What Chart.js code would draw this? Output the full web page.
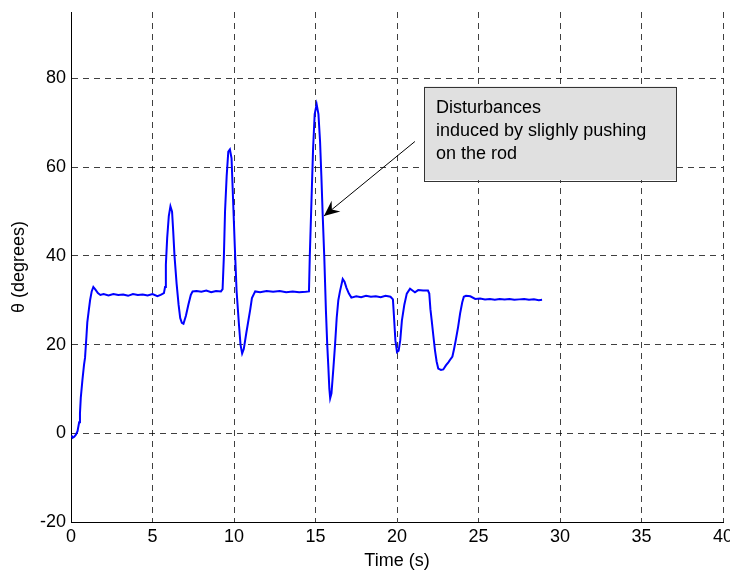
<!DOCTYPE html>
<html>
<head>
<meta charset="utf-8">
<script src="https://cdn.jsdelivr.net/npm/chart.js@4.4.1/dist/chart.umd.min.js"></script>
<style>
  html, body { margin: 0; padding: 0; background: #fff; }
  canvas { display: block; }
</style>
</head>
<body>
<canvas id="thetaChart" width="730" height="571"></canvas>
<script>
// pendulum angle response
const timeS = [
    0.05, 0.1, 0.2, 0.3, 0.4, 0.5, 0.55, 0.6, 0.7, 0.8, 0.86, 0.95, 1.0, 1.1, 1.17, 1.27, 1.37, 1.5, 1.65, 1.8,
    2.0, 2.3, 2.6, 2.9, 3.2, 3.5, 3.8, 4.1, 4.4, 4.7, 5.0, 5.3, 5.5, 5.7, 5.77, 5.82, 5.9, 6.0, 6.1, 6.2,
    6.27, 6.35, 6.48, 6.6, 6.7, 6.8, 6.9, 7.05, 7.2, 7.35, 7.46, 7.7, 8.0, 8.3, 8.6, 8.9, 9.2, 9.3, 9.38, 9.45,
    9.55, 9.65, 9.75, 9.85, 9.95, 10.05, 10.16, 10.3, 10.4, 10.5, 10.6, 10.75, 10.85, 11.0, 11.1, 11.3, 11.6, 12.0, 12.4, 12.8,
    13.2, 13.6, 14.0, 14.4, 14.6, 14.65, 14.75, 14.85, 14.95, 15.07, 15.18, 15.28, 15.36, 15.44, 15.54, 15.64, 15.72, 15.79, 15.85, 15.9,
    15.98, 16.1, 16.2, 16.3, 16.4, 16.5, 16.67, 16.78, 16.9, 17.05, 17.2, 17.5, 17.8, 18.1, 18.4, 18.7, 19.0, 19.3, 19.6, 19.75,
    19.82, 19.9, 20.0, 20.1, 20.2, 20.3, 20.45, 20.6, 20.8, 20.95, 21.1, 21.3, 21.6, 21.9, 21.98, 22.05, 22.13, 22.23, 22.33, 22.43,
    22.53, 22.7, 22.84, 23.0, 23.15, 23.3, 23.4, 23.5, 23.6, 23.75, 23.87, 24.0, 24.1, 24.23, 24.5, 24.8, 25.1, 25.4, 25.7, 26.0,
    26.3, 26.6, 26.9, 27.2, 27.5, 27.8, 28.1, 28.4, 28.7, 28.9
];
const thetaDeg = [
    -0.5, -1.0, -0.8, -0.3, 0.5, 2.5, 4.5, 8, 12, 15.5, 17, 22, 25, 28, 30, 32, 33, 32.4, 31.6, 31.2,
    31.4, 31.1, 31.4, 31.2, 31.3, 31.0, 31.4, 31.2, 31.3, 31.1, 31.4, 30.9, 31.2, 31.6, 33, 38, 44, 49, 51.2, 50,
    45.6, 40, 33.7, 29, 26, 24.9, 24.7, 26.5, 29, 31.2, 32, 32.1, 31.9, 32.2, 31.8, 32.1, 32, 32.5, 40, 50,
    58, 63.5, 64, 62, 52, 42, 32, 24.7, 20, 18, 19, 22.5, 24.7, 28, 30.5, 32, 31.8, 32.1, 31.9, 32.1,
    31.8, 32.0, 31.8, 31.9, 32, 40, 52, 64, 72, 74.2, 72, 65.8, 58, 49.4, 39.6, 27.6, 20, 14.8, 10, 7.9,
    9, 14.8, 20, 26, 30, 32, 34.8, 34.2, 32.8, 31.5, 30.6, 30.9, 30.7, 31.0, 30.8, 30.9, 30.7, 31.0, 30.8, 30.2,
    26, 21, 18.3, 18.6, 21, 25.4, 29, 31.5, 32.6, 32.2, 31.8, 32.3, 32.2, 32.2, 31.5, 28, 25.4, 22, 18.7, 16.2,
    14.6, 14.3, 14.4, 15.3, 16, 16.8, 17.3, 19, 20.9, 24, 27, 29.5, 30.8, 31, 30.9, 30.3, 30.4, 30.2, 30.3, 30.1,
    30.3, 30.2, 30.3, 30.1, 30.2, 30.3, 30.1, 30.2, 30.0, 30.1
];
const xTicks = [0, 5, 10, 15, 20, 25, 30, 35, 40];
const yTicks = [-20, 0, 20, 40, 60, 80];
const noteLines = ['Disturbances', 'induced by slighly pushing', 'on the rod'];

const FONT = "'Liberation Sans', Arial, sans-serif";

// text box + arrow, placed in data units
const annotationPlugin = {
    id: 'noteBox',
    afterDatasetsDraw(chart) {
        const { ctx, scales: { x, y } } = chart;
        const bx1 = x.getPixelForValue(21.66), bx2 = x.getPixelForValue(37.12);
        const by1 = y.getPixelForValue(78.2), by2 = y.getPixelForValue(57.1);

        // arrow
        const sx = x.getPixelForValue(21.1), sy = y.getPixelForValue(65.8);
        const tx = x.getPixelForValue(15.52), ty = y.getPixelForValue(49.0);
        const ang = Math.atan2(ty - sy, tx - sx);
        ctx.save();
        ctx.strokeStyle = '#000';
        ctx.lineWidth = 1;
        ctx.beginPath();
        ctx.moveTo(sx, sy);
        ctx.lineTo(tx, ty);
        ctx.stroke();
        const len = 17, half = 0.42;
        ctx.fillStyle = '#000';
        ctx.beginPath();
        ctx.moveTo(tx, ty);
        ctx.lineTo(tx - len * Math.cos(ang - half), ty - len * Math.sin(ang - half));
        ctx.lineTo(tx - len * 0.6 * Math.cos(ang), ty - len * 0.6 * Math.sin(ang));
        ctx.lineTo(tx - len * Math.cos(ang + half), ty - len * Math.sin(ang + half));
        ctx.closePath();
        ctx.fill();

        // box
        ctx.fillStyle = '#e0e0e0';
        ctx.fillRect(bx1, by1, bx2 - bx1, by2 - by1);
        ctx.strokeStyle = '#333';
        ctx.strokeRect(Math.round(bx1) + 0.5, Math.round(by1) + 0.5, Math.round(bx2 - bx1), Math.round(by2 - by1));

        ctx.fillStyle = '#000';
        ctx.font = '18px ' + FONT;
        ctx.textBaseline = 'alphabetic';
        noteLines.forEach((line, i) => {
            ctx.fillText(line, bx1 + 12, by1 + 26 + i * 23);
        });
        ctx.restore();
    }
};

new Chart(document.getElementById('thetaChart'), {
    type: 'line',
    data: {
        datasets: [{
            data: timeS.map((t, i) => ({ x: t, y: thetaDeg[i] })),
            borderColor: '#0000ff',
            borderWidth: 2,
            pointRadius: 0,
            tension: 0,
            fill: false
        }]
    },
    options: {
        responsive: false,
        animation: false,
        layout: { padding: { left: 0, right: 7, top: 12, bottom: 0 } },
        plugins: {
            legend: { display: false },
            tooltip: { enabled: false }
        },
        scales: {
            x: {
                type: 'linear',
                min: 0,
                max: 40,
                afterBuildTicks: (axis) => { axis.ticks = xTicks.map(v => ({ value: v })); },
                afterFit: (axis) => { axis.height = 49; axis.paddingLeft = 0; axis.paddingRight = 0; },
                grid: { color: 'rgba(0,0,0,0.75)', lineWidth: 1, drawTicks: false },
                border: { display: true, color: '#000', width: 1, dash: [6, 5] },
                ticks: { color: '#000', font: { family: FONT, size: 18 }, padding: 4, maxRotation: 0 },
                title: { display: true, text: 'Time (s)', color: '#000', font: { family: FONT, size: 18 }, padding: { top: 0, bottom: -1 } }
            },
            y: {
                min: -20,
                max: 95,
                afterBuildTicks: (axis) => { axis.ticks = yTicks.map(v => ({ value: v })); },
                afterFit: (axis) => { axis.width = 71; axis.paddingTop = 0; axis.paddingBottom = 0; },
                grid: { color: 'rgba(0,0,0,0.75)', lineWidth: 1, drawTicks: false },
                border: { display: true, color: '#000', width: 1, dash: [6, 5] },
                ticks: { color: '#000', font: { family: FONT, size: 18 }, padding: 5 },
                title: { display: true, text: 'θ (degrees)', color: '#000', font: { family: FONT, size: 18 }, padding: { top: 8, bottom: 0 } }
            }
        }
    },
    plugins: [annotationPlugin]
});
</script>
</body>
</html>
